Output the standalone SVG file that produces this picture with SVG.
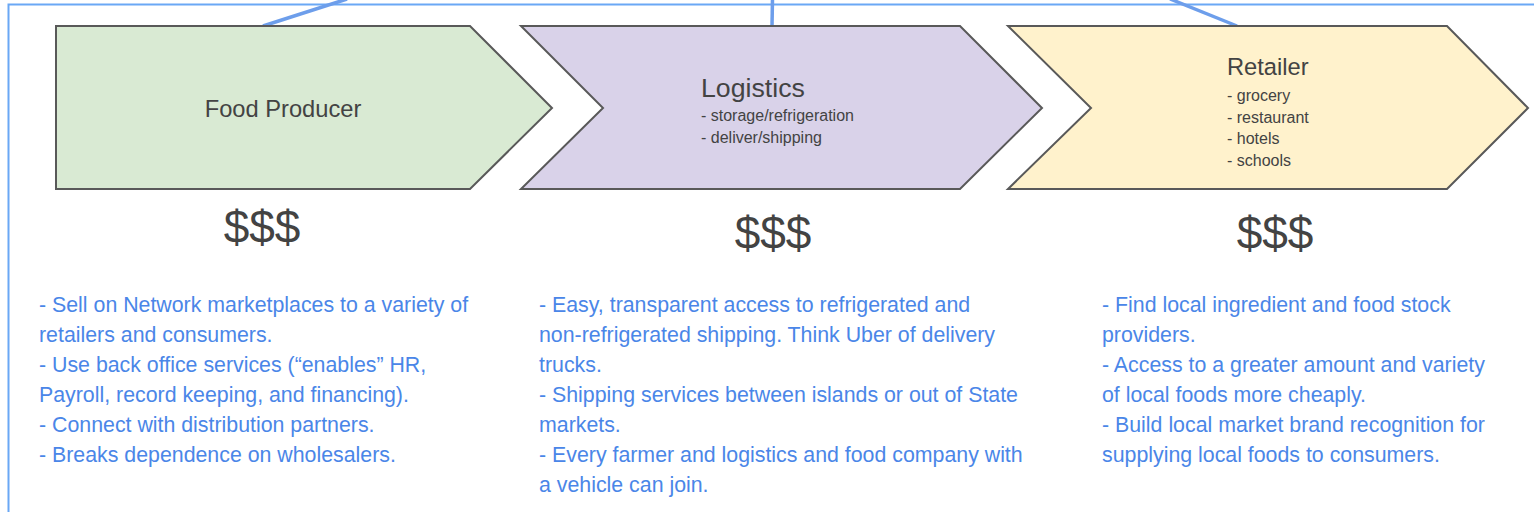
<svg xmlns="http://www.w3.org/2000/svg" width="1534" height="512" viewBox="0 0 1534 512">
<style>
.shape{stroke:#595959;stroke-width:2;stroke-linejoin:miter}
.title{font-family:"Liberation Sans",Arial,sans-serif;fill:#434343}
.sub{font-family:"Liberation Sans",Arial,sans-serif;font-size:16px;fill:#434343}
.money{font-family:"Liberation Sans",Arial,sans-serif;font-size:46px;fill:#434343;text-anchor:middle}
.bul{font-family:"Liberation Sans",Arial,sans-serif;font-size:21.33px;fill:#4a86e8}
.conn{stroke:#6d9eeb;stroke-width:3.5;fill:none}
</style>
<rect width="1534" height="512" fill="#ffffff"/>
<rect id="frame" x="8.5" y="4.5" width="1600" height="600" fill="none" stroke="#6aa8f5" stroke-width="2"/>
<g id="connectors">
<line class="conn" x1="347" y1="-1" x2="263" y2="26"/>
<line class="conn" x1="772.5" y1="-1" x2="772" y2="26"/>
<line class="conn" x1="1170" y1="-1" x2="1237" y2="26"/>
</g>
<g id="food-producer">
<polygon class="shape" fill="#d9ead3" points="56,26 470,26 552,108 470,189 56,189"/>
<text class="title" x="283" y="116.5" font-size="23.7px" text-anchor="middle">Food Producer</text>
</g>
<g id="logistics">
<polygon class="shape" fill="#d9d2e9" points="521,26 960,26 1042,108 960,189 521,189 603,108"/>
<text class="title" x="701" y="96.5" font-size="26.7px">Logistics</text>
<text class="sub" x="701" y="120.5">- storage/refrigeration</text>
<text class="sub" x="701" y="142.5">- deliver/shipping</text>
</g>
<g id="retailer">
<polygon class="shape" fill="#fff2cc" points="1008,26 1447,26 1528,108 1447,189 1008,189 1091,108"/>
<text class="title" x="1227" y="75" font-size="23.7px">Retailer</text>
<text class="sub" x="1227" y="100.7">- grocery</text>
<text class="sub" x="1227" y="122.5">- restaurant</text>
<text class="sub" x="1227" y="144.3">- hotels</text>
<text class="sub" x="1227" y="166">- schools</text>
</g>
<g id="money">
<text class="money" x="262" y="243">$$$</text>
<text class="money" x="773" y="249">$$$</text>
<text class="money" x="1275" y="249">$$$</text>
</g>
<g id="producer-benefits">
<text class="bul" x="39" y="311.5">- Sell on Network marketplaces to a variety of</text>
<text class="bul" x="39" y="341.5">retailers and consumers.</text>
<text class="bul" x="39" y="371.5">- Use back office services (“enables” HR,</text>
<text class="bul" x="39" y="401.5">Payroll, record keeping, and financing).</text>
<text class="bul" x="39" y="431.5">- Connect with distribution partners.</text>
<text class="bul" x="39" y="461.5">- Breaks dependence on wholesalers.</text>
</g>
<g id="logistics-benefits">
<text class="bul" x="539" y="311.5">- Easy, transparent access to refrigerated and</text>
<text class="bul" x="539" y="341.5">non-refrigerated shipping. Think Uber of delivery</text>
<text class="bul" x="539" y="371.5">trucks.</text>
<text class="bul" x="539" y="401.5">- Shipping services between islands or out of State</text>
<text class="bul" x="539" y="431.5">markets.</text>
<text class="bul" x="539" y="461.5">- Every farmer and logistics and food company with</text>
<text class="bul" x="539" y="491.5">a vehicle can join.</text>
</g>
<g id="retailer-benefits">
<text class="bul" x="1102" y="311.5">- Find local ingredient and food stock</text>
<text class="bul" x="1102" y="341.5">providers.</text>
<text class="bul" x="1102" y="371.5">- Access to a greater amount and variety</text>
<text class="bul" x="1102" y="401.5">of local foods more cheaply.</text>
<text class="bul" x="1102" y="431.5">- Build local market brand recognition for</text>
<text class="bul" x="1102" y="461.5">supplying local foods to consumers.</text>
</g>
</svg>
